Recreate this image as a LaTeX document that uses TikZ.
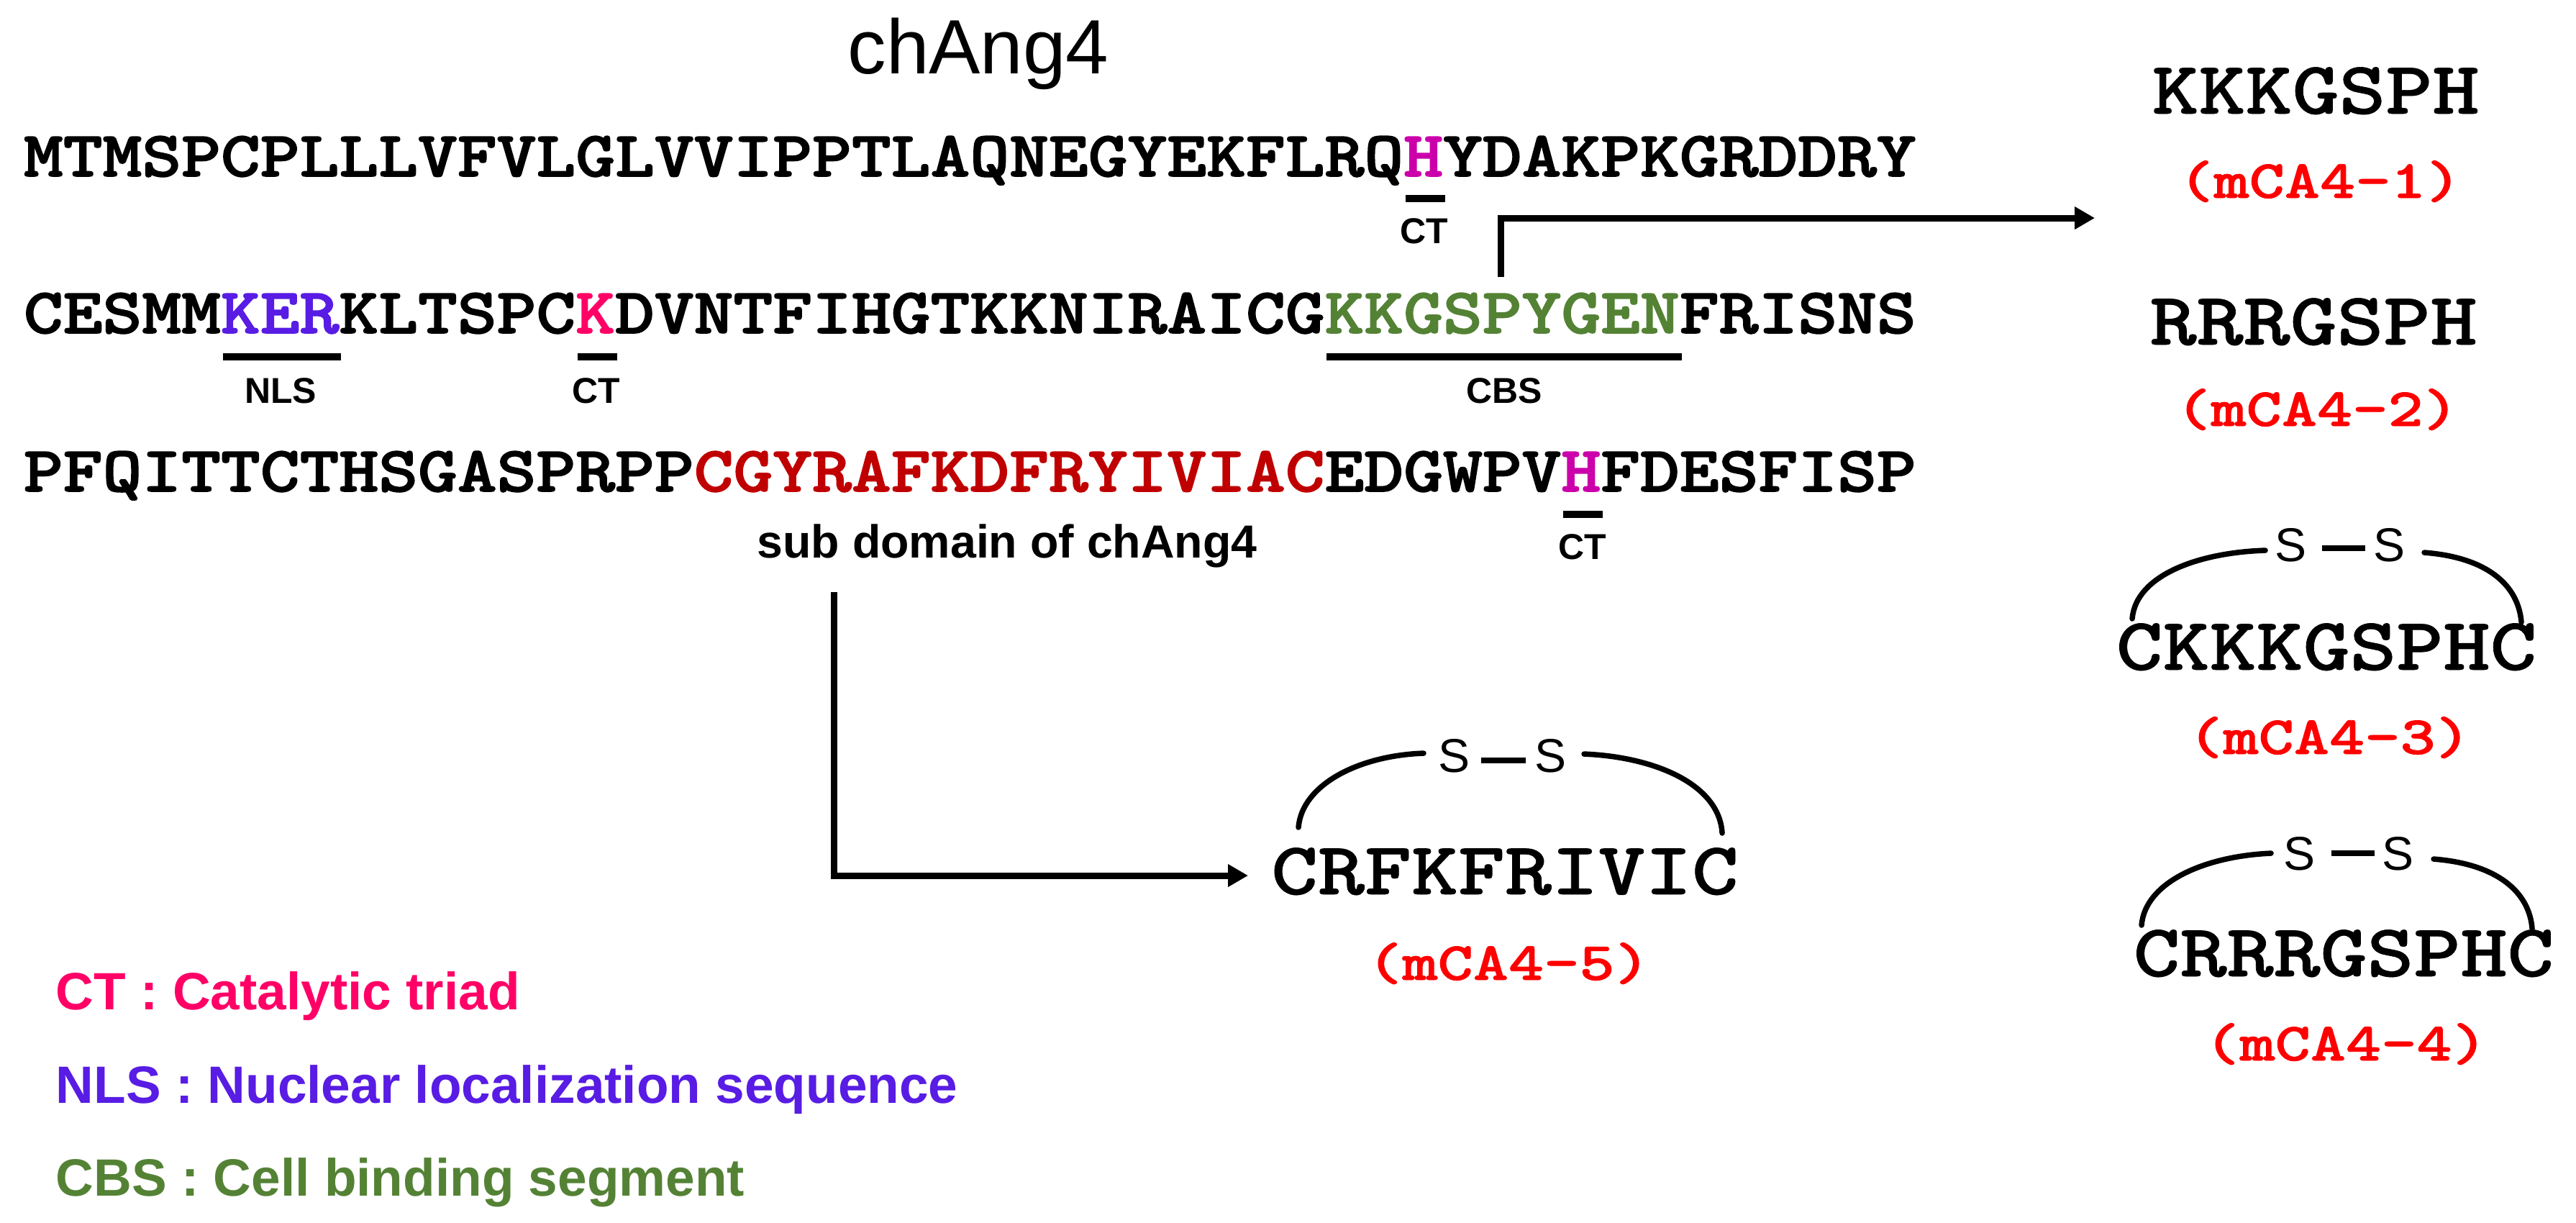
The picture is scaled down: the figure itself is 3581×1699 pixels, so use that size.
\documentclass[tikz,border=0pt]{standalone}
\usepackage{fontspec}
\newfontfamily\arial{Liberation Sans}
\newfontfamily\cmono[FakeBold=1.6]{lmmonolt10-bold.otf}
\newfontfamily\cmonop[FakeBold=0.6]{lmmonolt10-bold.otf}
\newfontfamily\cmonom[FakeBold=1.0]{lmmonolt10-bold.otf}
\usetikzlibrary{arrows.meta}
\definecolor{ctpink}{RGB}{255,0,102}
\definecolor{nlsblue}{RGB}{88,28,228}
\definecolor{cbsgreen}{RGB}{84,130,53}
\definecolor{hmag}{RGB}{204,0,170}
\definecolor{subred}{RGB}{192,0,0}
\definecolor{mcared}{RGB}{255,0,0}
\newcommand\seqw[1]{\scalebox{1.16}[1]{#1}}
\newcommand\pepw[1]{\scalebox{1.19}[1]{#1}}
\newcommand\mcaw[1]{\scalebox{1.25}[1]{#1}}
\tikzset{
  seq/.style={font=\cmono\fontsize{9.0pt}{11pt}\selectfont, inner sep=0pt, anchor=base west},
  pep/.style={font=\cmonop\fontsize{10.4pt}{13pt}\selectfont, inner sep=0pt, anchor=base},
  mca/.style={font=\cmonom\fontsize{7.5pt}{10pt}\selectfont, text=mcared, inner sep=0pt, anchor=base},
  tag/.style={font=\arial\bfseries\fontsize{5pt}{6pt}\selectfont, inner sep=0pt, anchor=base},
  sslbl/.style={font=\arial\fontsize{6.6pt}{8pt}\selectfont, inner sep=0pt, anchor=base},
  legend/.style={font=\arial\bfseries\fontsize{7.3pt}{9pt}\selectfont, inner sep=0pt, anchor=base west},
  title/.style={font=\arial\fontsize{10.7pt}{13pt}\selectfont, inner sep=0pt, anchor=base},
  subttl/.style={font=\arial\bfseries\fontsize{6.45pt}{8pt}\selectfont, inner sep=0pt, anchor=base},
  resbar/.style={line width=1pt},
  arr/.style={line width=0.9pt, -{Triangle[length=2.8pt,width=3pt]}},
  bond/.style={line width=0.75pt, line cap=round},
  ssdash/.style={line width=0.8pt},
}
\begin{document}
\begin{tikzpicture}[x=0.1pt,y=-0.1pt]
\useasboundingbox (0,0) rectangle (3581,1699);
\def\p{54.8}
\def\xo{36}
% title
\node[title] (title) at (1360,102) {chAng4};
% sequence lines
\node[seq] (line1) at (31,245) {\seqw{MTMSPCPLLLVFVLGLVVIPPTLAQNEGYEKFLRQ\textcolor{hmag}{H}YDAKPKGRDDRY}};
\node[seq] (line2) at (31,463) {\seqw{CESMM\textcolor{nlsblue}{KER}KLTSPC\textcolor{ctpink}{K}DVNTFIHGTKKNIRAICG\textcolor{cbsgreen}{KKGSPYGEN}FRISNS}};
\node[seq] (line3) at (31,683) {\seqw{PFQITTCTHSGASPRPP\textcolor{subred}{CGYRAFKDFRYIVIAC}EDGWPV\textcolor{hmag}{H}FDESFISP}};
% residue bars
\draw[resbar] ({\xo+35*\p},276) -- ({\xo+36*\p},276);
\draw[resbar] ({\xo+5*\p},496) -- ({\xo+8*\p},496);
\draw[resbar] ({\xo+14*\p},496) -- ({\xo+15*\p},496);
\draw[resbar] ({\xo+33*\p},496) -- ({\xo+42*\p},496);
\draw[resbar] ({\xo+39*\p},715) -- ({\xo+40*\p},715);
% bar labels
\node[tag] (ct1) at (1980,338) {CT};
\node[tag] (nls) at (390,560) {NLS};
\node[tag] (ct2) at (829,560) {CT};
\node[tag] (cbs) at (2091,560) {CBS};
\node[tag] (ct3) at (2200,777) {CT};
\node[subttl] (sub) at (1400,775) {sub domain of chAng4};
% connectors
\coordinate (a1s) at (2086,385);
\coordinate (a1e) at (2912,303);
\draw[arr] (a1s) |- (a1e);
\coordinate (a2s) at (1159,823);
\coordinate (a2e) at (1735,1217);
\draw[arr] (a2s) |- (a2e);
% right column peptides
\node[pep] (p1) at (3219,158) {\pepw{KKKGSPH}};
\node[mca] (m1) at (3225,275) {\mcaw{(mCA4-1)}};
\node[pep] (p2) at (3216,479) {\pepw{RRRGSPH}};
\node[mca] (m2) at (3221,592) {\mcaw{(mCA4-2)}};
% mCA4-3
\node[sslbl] (s3a) at (3184,780) {S};
\node[sslbl] (s3b) at (3321,780) {S};
\draw[ssdash] (3228,762) -- (3288,762);
\draw[bond] (2964,860) .. controls (2969,800) and (3055,768) .. (3149,765);
\draw[bond] (3370,768) .. controls (3460,775) and (3501,815) .. (3505,865);
\node[pep] (p3) at (3234,931) {\pepw{CKKKGSPHC}};
\node[mca] (m3) at (3238,1048) {\mcaw{(mCA4-3)}};
% mCA4-4
\node[sslbl] (s4a) at (3196,1209) {S};
\node[sslbl] (s4b) at (3333,1209) {S};
\draw[ssdash] (3241,1186) -- (3301,1186);
\draw[bond] (2977,1286) .. controls (2982,1226) and (3065,1190) .. (3157,1186);
\draw[bond] (3383,1194) .. controls (3472,1201) and (3516,1240) .. (3520,1291);
\node[pep] (p4) at (3258,1357) {\pepw{CRRRGSPHC}};
\node[mca] (m4) at (3261,1474) {\mcaw{(mCA4-4)}};
% mCA4-5
\node[sslbl] (s5a) at (2021,1073) {S};
\node[sslbl] (s5b) at (2155,1073) {S};
\draw[ssdash] (2059,1057) -- (2121,1057);
\draw[bond] (1805,1150) .. controls (1810,1090) and (1890,1050) .. (1979,1047);
\draw[bond] (2202,1048) .. controls (2300,1052) and (2390,1090) .. (2394,1158);
\node[pep] (p5) at (2092,1243) {\pepw{CRFKFRIVIC}};
\node[mca] (m5) at (2097,1362) {\mcaw{(mCA4-5)}};
% legend
\node[legend, text=ctpink] (lg1) at (76,1403) {CT : Catalytic triad};
\node[legend, text=nlsblue] (lg2) at (76,1533) {NLS : Nuclear localization sequence};
\node[legend, text=cbsgreen] (lg3) at (76,1662) {CBS : Cell binding segment};
\end{tikzpicture}
\end{document}
